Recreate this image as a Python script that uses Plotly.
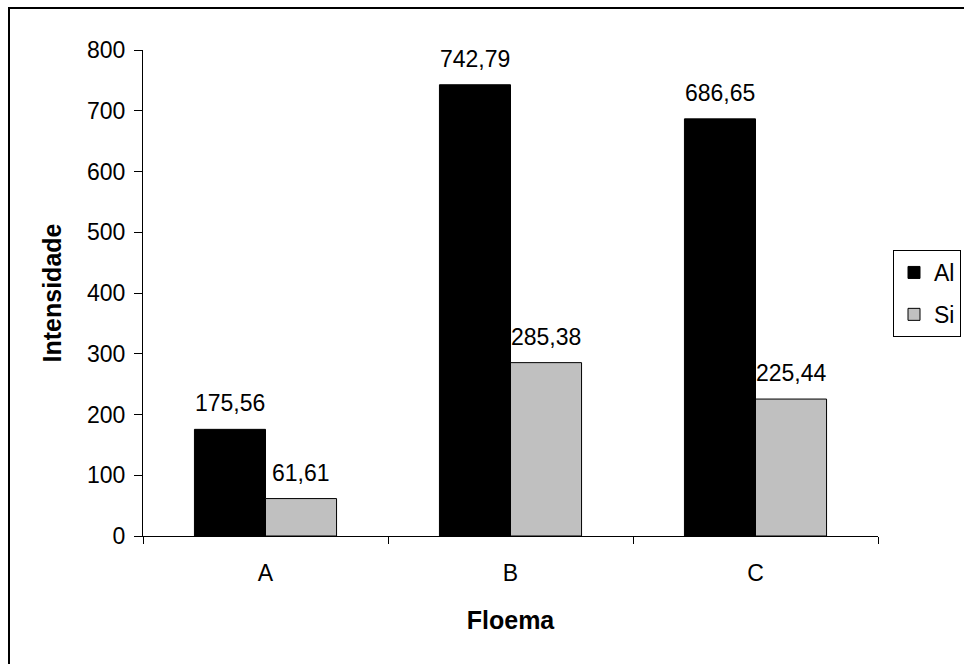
import plotly.graph_objects as go

# Floema samples and element intensities
categories = ["A", "B", "C"]
al_values = [175.56, 742.79, 686.65]
si_values = [61.61, 285.38, 225.44]
y_ticks = [0, 100, 200, 300, 400, 500, 600, 700, 800]

FONT = "Liberation Sans, Arial, sans-serif"
FS = 23      # tick, value and legend text
FS_T = 25    # bold axis titles

fig = go.Figure()
fig.add_trace(go.Bar(
    x=categories, y=al_values, name="Al", legendgroup="al",
    marker=dict(color="#000000", line=dict(color="#000000", width=1)),
))
fig.add_trace(go.Bar(
    x=categories, y=si_values, name="Si", legendgroup="si",
    marker=dict(color="#C0C0C0", line=dict(color="#000000", width=1)),
))

def fmt(v):
    return f"{v:.2f}".replace(".", ",")

# value labels above each bar (Al on the left half, Si on the right half of a group)
annotations = []
for cat, va, vs in zip(categories, al_values, si_values):
    for v, shift in ((va, -35.5), (vs, 35.5)):
        annotations.append(dict(
            x=cat, y=v, xref="x", yref="y", text=fmt(v), showarrow=False,
            xshift=shift, yshift=11, yanchor="bottom", xanchor="center",
            font=dict(family=FONT, size=FS, color="#000000"),
        ))

fig.update_layout(
    width=964, height=664,
    margin=dict(l=143, r=86, t=50, b=128, autoexpand=False),
    paper_bgcolor="#FFFFFF", plot_bgcolor="#FFFFFF",
    barmode="group", bargap=0.42, bargroupgap=0,
    font=dict(family=FONT, size=FS, color="#000000"),
    separators=", ",
    annotations=annotations,
    showlegend=True,
    legend=dict(
        xref="container", yref="container",
        x=961 / 964, y=1 - 250 / 664, xanchor="right", yanchor="top",
        bgcolor="#FFFFFF", bordercolor="#000000", borderwidth=1,
        font=dict(family=FONT, size=FS, color="#000000"),
        itemwidth=30, traceorder="grouped", tracegroupgap=9,
    ),
    xaxis=dict(
        type="category", showline=True, linecolor="#000000", linewidth=1,
        ticks="outside", tickson="boundaries", ticklen=7, tickcolor="#000000",
        showgrid=False, zeroline=False, ticklabelstandoff=16,
        title=dict(text="<b>Floema</b>", standoff=26,
                   font=dict(family=FONT, size=FS_T, color="#000000")),
    ),
    yaxis=dict(
        range=[0, 800], tickvals=y_ticks, showline=True, linecolor="#000000",
        linewidth=1, ticks="outside", ticklen=8, tickcolor="#000000",
        showgrid=False, zeroline=False, ticklabelstandoff=4,
        title=dict(text="<b>Intensidade</b>", standoff=18,
                   font=dict(family=FONT, size=FS_T, color="#000000")),
    ),
    shapes=[dict(
        type="rect", xref="paper", yref="paper",
        x0=(9 - 143) / 735, x1=1.2, y0=-0.3, y1=(536 - 8) / 486,
        line=dict(color="#000000", width=2), layer="above",
    )],
)

fig.write_html("out.html")
